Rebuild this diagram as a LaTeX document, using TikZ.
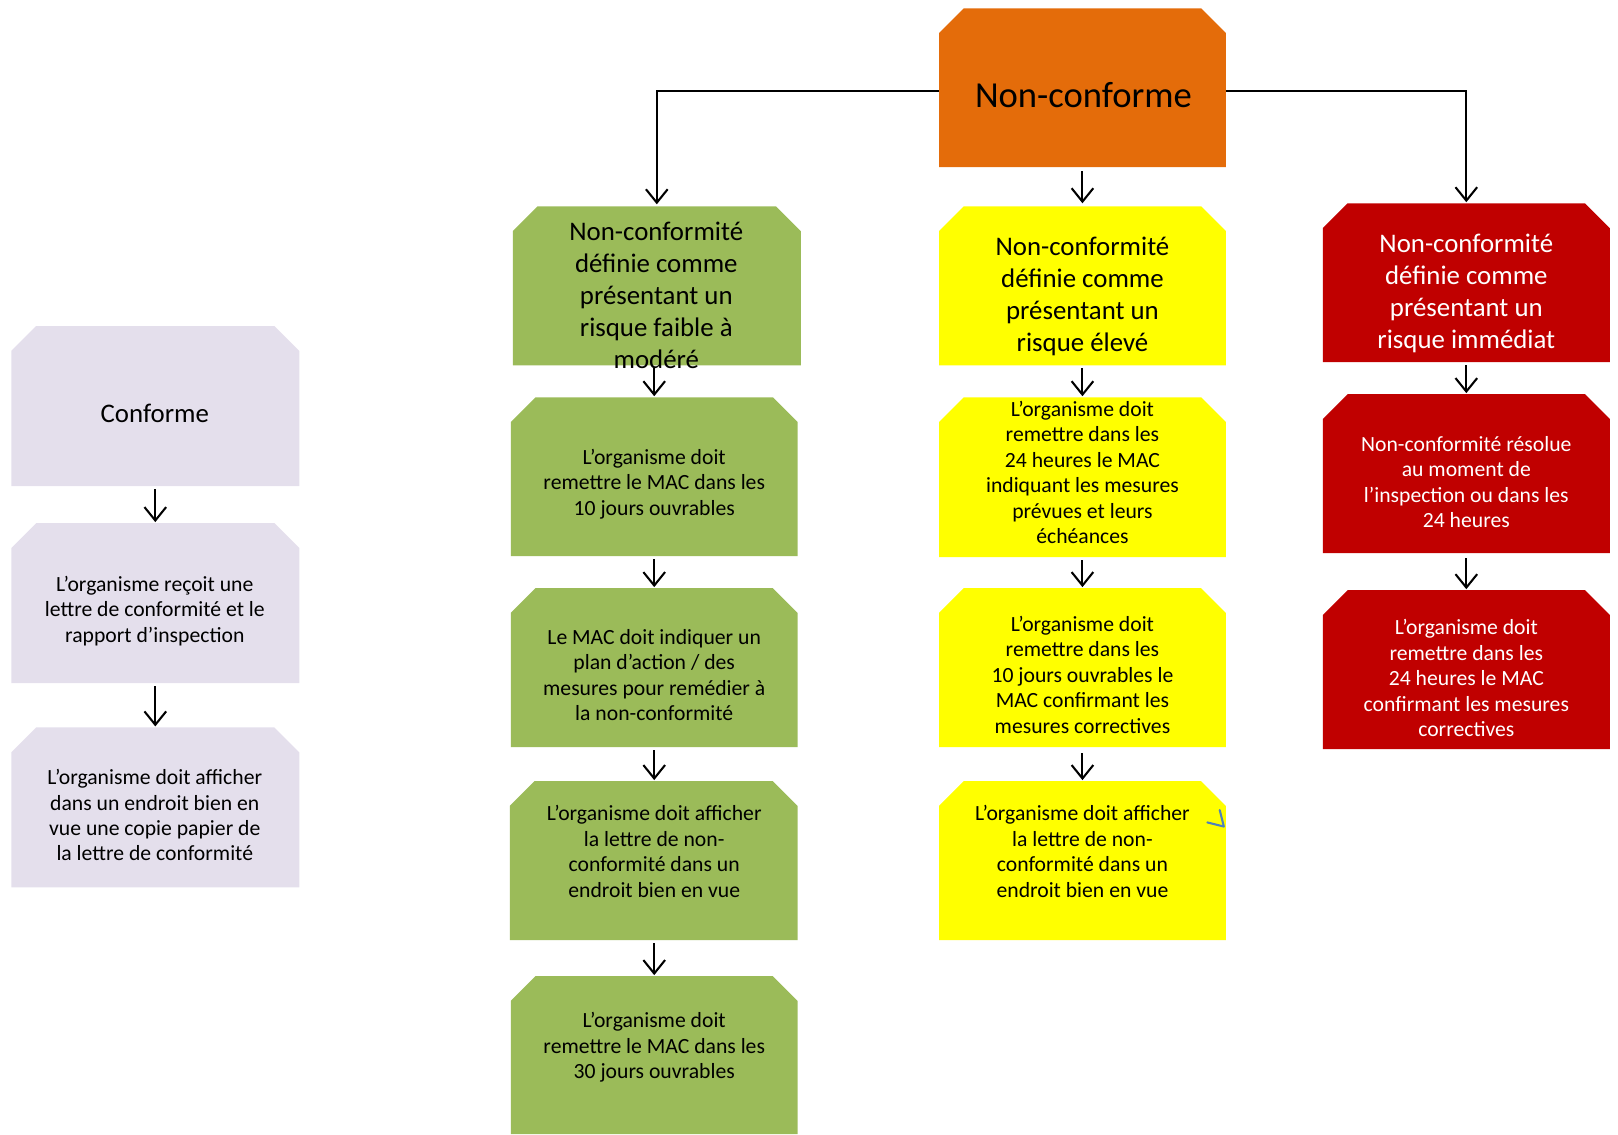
\documentclass[tikz,border=0pt]{standalone}
\usepackage{fontspec}
\setmainfont{Carlito}
\usetikzlibrary{arrows.meta}
\definecolor{cOrange}{HTML}{E46C0A}
\definecolor{cGreen}{HTML}{9BBB59}
\definecolor{cYellow}{HTML}{FFFF00}
\definecolor{cRed}{HTML}{C00000}
\definecolor{cLav}{HTML}{E4DFEC}
\definecolor{cBlue}{HTML}{4F81BD}
\newcommand{\snipbox}[6]{%
  \fill[#6] (#2,-#5) -- (#2,-#3-24) -- (#2+24,-#3) -- (#4-24,-#3) -- (#4,-#3-24) -- (#4,-#5) -- cycle;
  \node[boxanchor,minimum width=#4pt-#2pt,minimum height=#5pt-#3pt] (#1) at ({(#2+#4)/2},{-(#3+#5)/2}) {};}
\begin{document}
\begin{tikzpicture}[x=1pt,y=1pt,
  boxanchor/.style={inner sep=0pt,outer sep=0pt,draw=none,rectangle},
  txt/.style={align=center,inner sep=0pt,font=\fontsize{21}{24.7}\selectfont},
  head/.style={align=center,inner sep=0pt,font=\fontsize{26}{31}\selectfont},
  conn/.style={line width=2pt,-{Straight Barb[length=13pt,width=21pt]}},
  chain/.style={conn,shorten <=3pt,shorten >=1pt}
]
\useasboundingbox (0,0) rectangle (1568,-1099);
% boxes
\snipbox{o}{910}{8}{1188}{162}{cOrange}
\snipbox{c1}{11}{316}{290}{471}{cLav}
\snipbox{c2}{11}{507}{290}{662}{cLav}
\snipbox{c3}{11}{705}{290}{860}{cLav}
\snipbox{g1}{497}{200}{776}{354}{cGreen}
\snipbox{g2}{495}{385}{773}{539}{cGreen}
\snipbox{g3}{495}{570}{773}{724}{cGreen}
\snipbox{g4}{494}{757}{773}{911}{cGreen}
\snipbox{g5}{495}{946}{773}{1099}{cGreen}
\snipbox{y1}{910}{200}{1188}{354}{cYellow}
\snipbox{y2}{910}{385}{1188}{540}{cYellow}
\snipbox{y3}{910}{570}{1188}{724}{cYellow}
\snipbox{y4}{910}{757}{1188}{911}{cYellow}
\snipbox{r1}{1282}{197}{1560}{351}{cRed}
\snipbox{r2}{1282}{382}{1560}{536}{cRed}
\snipbox{r3}{1282}{572}{1560}{726}{cRed}
% texts
\node[align=center,inner sep=0pt,font=\fontsize{35.5}{42}\selectfont] (ot) at (1050,-92) {Non-conforme};
\node[head] (c1t) at (150,-401) {Conforme};
\node[txt] (c2t) at (150,-592) {L’organisme reçoit une\\lettre de conformité et le\\rapport d’inspection};
\node[txt] (c3t) at (150,-790) {L’organisme doit afficher\\dans un endroit bien en\\vue une copie papier de\\la lettre de conformité};
\node[head] (g1t) at (636,-286) {Non-conformité\\définie comme\\présentant un\\risque faible à\\modéré};
\node[txt] (g2t) at (634,-469) {L’organisme doit\\remettre le MAC dans les\\10 jours ouvrables};
\node[txt] (g3t) at (634,-654) {Le MAC doit indiquer un\\plan d’action / des\\mesures pour remédier à\\la non-conformité};
\node[txt] (g4t) at (634,-825) {L’organisme doit afficher\\la lettre de non-\\conformité dans un\\endroit bien en vue};
\node[txt] (g5t) at (634,-1015) {L’organisme doit\\remettre le MAC dans les\\30 jours ouvrables};
\node[head] (y1t) at (1049,-287) {Non-conformité\\définie comme\\présentant un\\risque élevé};
\node[txt] (y2t) at (1049,-458) {L’organisme doit\\remettre dans les\\24 heures le MAC\\indiquant les mesures\\prévues et leurs\\échéances};
\node[txt] (y3t) at (1049,-654) {L’organisme doit\\remettre dans les\\10 jours ouvrables le\\MAC confirmant les\\mesures correctives};
\node[txt] (y4t) at (1049,-825) {L’organisme doit afficher\\la lettre de non-\\conformité dans un\\endroit bien en vue};
\node[head,text=white] (r1t) at (1421,-284) {Non-conformité\\définie comme\\présentant un\\risque immédiat};
\node[txt,text=white] (r2t) at (1421,-467) {Non-conformité résolue\\au moment de\\l’inspection ou dans les\\24 heures};
\node[txt,text=white] (r3t) at (1421,-657) {L’organisme doit\\remettre dans les\\24 heures le MAC\\confirmant les mesures\\correctives};
% connectors
\draw[conn] ([yshift=-3pt]o.west) -| ([yshift=2pt]g1.north);
\draw[conn] ([yshift=-3pt]o.east) -| ([yshift=1pt]r1.north);
\draw[chain,shorten <=4pt] (o.south -| y1.north) -- ([yshift=2pt]y1.north);
\draw[chain] (c1.south) -- (c2.north);
\draw[chain] (c2.south) -- (c3.north);
\draw[chain] (g1.south -| g2.north) -- (g2.north);
\draw[chain] (g2.south) -- (g3.north);
\draw[chain] (g3.south) -- (g4.north -| g3.south);
\draw[chain] (g4.south -| g3.south) -- (g5.north -| g3.south);
\draw[chain] (y1.south) -- (y2.north);
\draw[chain] (y2.south) -- (y3.north);
\draw[chain,shorten <=6pt] (y3.south) -- (y4.north);
\draw[chain] (r1.south) -- (r2.north);
\draw[chain,shorten <=5pt] (r2.south) -- (r3.north);
% stray blue mark
\draw[cBlue,line width=2pt,line cap=round,line join=round] (1182,-785) -- (1186,-801) -- (1170,-797);
\end{tikzpicture}
\end{document}
